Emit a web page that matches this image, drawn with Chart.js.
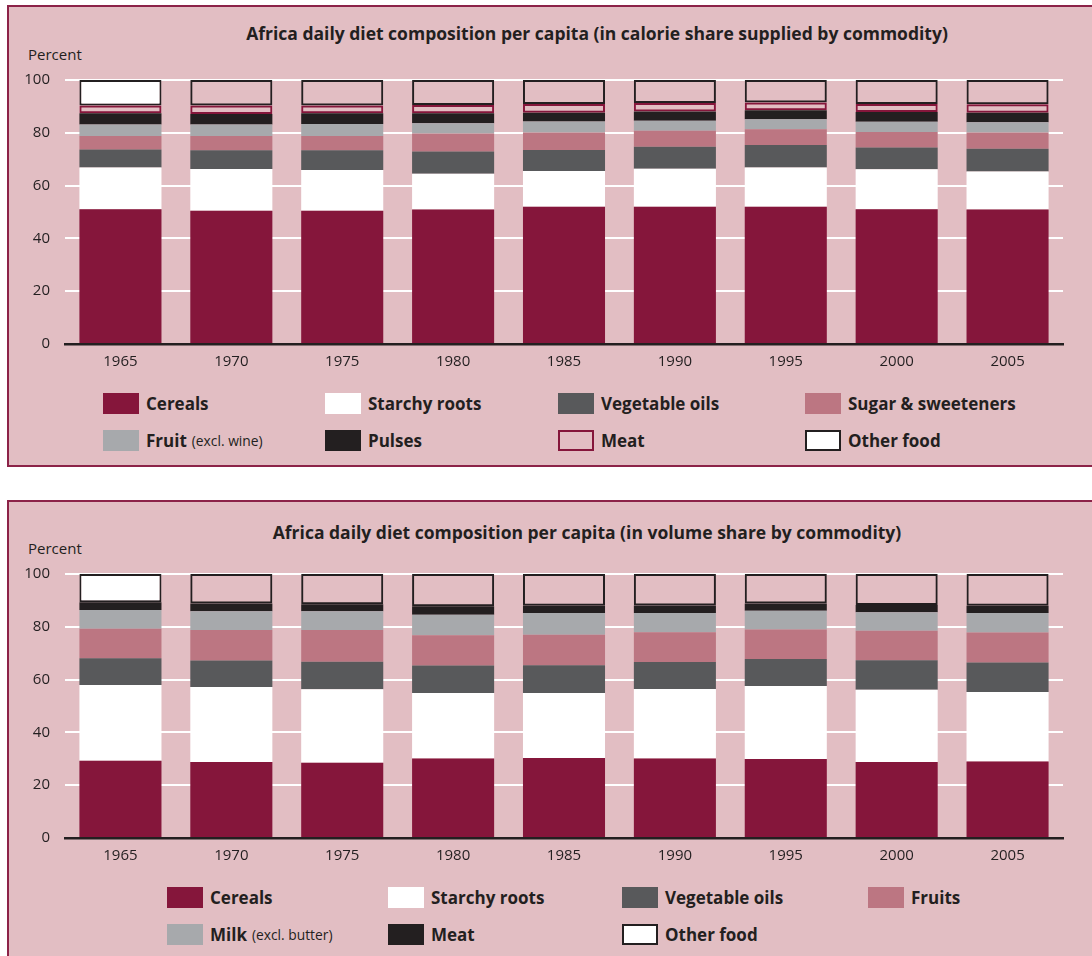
<!DOCTYPE html>
<html>
<head>
<meta charset="utf-8">
<script src="https://cdn.jsdelivr.net/npm/chart.js@4.4.1/dist/chart.umd.min.js"></script>
<style>
  body { margin: 0; width: 1092px; height: 956px; overflow: hidden; position: relative; background: #fff;
         font-family: 'Open Sans', sans-serif; color: #231f20; }
  .panel { position: absolute; left: 7px; width: 1100px; background: #e2bec3; border: 2px solid #8c2348; box-sizing: border-box; }
  .title { position: absolute; font-weight: bold; font-size: 17.5px; white-space: nowrap; transform: translate(-50%, -50%); }
  .unit { position: absolute; font-size: 15px; transform: translateY(-50%); }
  .chart-box { position: absolute; left: 0; width: 1092px; height: 320px; }
  .key { position: absolute; height: 21px; display: flex; align-items: center; white-space: nowrap;
         font-size: 17px; font-weight: bold; }
  .key i { display: inline-block; width: 36px; height: 21px; box-sizing: border-box; margin-right: 7px; flex: none; }
  .key small { font-weight: normal; font-size: 13.8px; margin-left: 5px; }
</style>
</head>
<body>
<div class="panel" style="top:5px;height:462px"></div>
<div class="panel" style="top:500px;height:500px"></div>

<div class="title" style="left:597px;top:33px">Africa daily diet composition per capita (in calorie share supplied by commodity)</div>
<div class="unit" style="left:28px;top:54px">Percent</div>
<div class="chart-box" style="top:60px"><canvas id="calorieChart"></canvas></div>

<div class="title" style="left:587px;top:532px">Africa daily diet composition per capita (in volume share by commodity)</div>
<div class="unit" style="left:28px;top:548px">Percent</div>
<div class="chart-box" style="top:554px"><canvas id="volumeChart"></canvas></div>

<script>
const years = ['1965', '1970', '1975', '1980', '1985', '1990', '1995', '2000', '2005'];
const yTicks = [0, 20, 40, 60, 80, 100];

// calorie share supplied by commodity (%)
const calCereals   = [51.0, 50.5, 50.5, 50.9, 52.0, 52.0, 52.0, 51.0, 50.9];
const calStarchy   = [15.9, 15.8, 15.4, 13.6, 13.5, 14.4, 14.9, 15.2, 14.4];
const calVegOils   = [6.8, 7.1, 7.5, 8.4, 8.0, 8.3, 8.5, 8.2, 8.7];
const calSugar     = [5.1, 5.4, 5.4, 6.8, 6.6, 6.1, 5.9, 5.9, 6.1];
const calFruit     = [4.3, 4.3, 4.5, 3.9, 4.2, 3.8, 3.8, 3.9, 3.9];
const calPulses    = [4.3, 4.0, 4.1, 3.8, 3.3, 3.5, 3.4, 3.7, 3.6];
const calMeat      = [2.9, 3.2, 2.9, 3.1, 3.3, 3.2, 3.0, 3.0, 3.2];
const calOther     = [9.7, 9.7, 9.7, 9.5, 9.1, 8.7, 8.5, 9.1, 9.2];

// volume share by commodity (%)
const volCereals   = [29.3, 28.8, 28.5, 30.1, 30.3, 30.1, 29.9, 28.8, 29.0];
const volStarchy   = [28.7, 28.4, 27.8, 24.8, 24.6, 26.3, 27.7, 27.4, 26.3];
const volVegOils   = [10.1, 10.0, 10.5, 10.4, 10.5, 10.3, 10.2, 11.1, 11.2];
const volFruits    = [11.2, 11.6, 12.0, 11.5, 11.6, 11.2, 11.2, 11.2, 11.3];
const volMilk      = [7.1, 7.1, 7.1, 7.8, 8.2, 7.3, 7.1, 7.0, 7.4];
const volMeat      = [2.9, 2.9, 2.6, 3.2, 2.8, 2.9, 2.7, 2.8, 2.8];
const volOther     = [10.7, 11.2, 11.5, 12.2, 12.0, 11.9, 11.2, 11.7, 12.0];

const calLabels = ['Cereals', 'Starchy roots', 'Vegetable oils', 'Sugar & sweeteners',
                   'Fruit', 'Pulses', 'Meat', 'Other food'];
const calNotes  = ['', '', '', '', '(excl. wine)', '', '', ''];
const volLabels = ['Cereals', 'Starchy roots', 'Vegetable oils', 'Fruits',
                   'Milk', 'Meat', 'Other food'];
const volNotes  = ['', '', '', '', '(excl. butter)', '', ''];

const MAROON = '#85163b';
const INK = '#231f20';
const PANEL = '#e2bec3';
const CLEAR = 'rgba(0,0,0,0)';

const solid = color => ({ backgroundColor: color, swatch: color, borderWidth: 0 });
const outlined = (line, fill) => ({ backgroundColor: fill, swatch: fill[0], borderColor: line,
                                    borderWidth: 2, borderSkipped: false, inflateAmount: 0 });
// only the first bar of "Other food" is filled white, the rest stay open
const otherFill = years.map((_, i) => i === 0 ? '#ffffff' : CLEAR);

const calStyles = [solid(MAROON), solid('#ffffff'), solid('#58595b'), solid('#bc7682'),
                   solid('#a7a9ac'), solid(INK), outlined(MAROON, years.map(() => CLEAR)),
                   outlined(INK, otherFill)];
const volStyles = [solid(MAROON), solid('#ffffff'), solid('#58595b'), solid('#bc7682'),
                   solid('#a7a9ac'), solid(INK), outlined(INK, otherFill)];

function buildDatasets(series, labels, styles) {
    return series.map((data, i) => {
        const { swatch, ...style } = styles[i];
        return { label: labels[i], data, stack: 's', ...style };
    });
}

function renderChart(canvasId, datasets) {
    const ctx = document.getElementById(canvasId).getContext('2d');
    return new Chart(ctx, {
        type: 'bar',
        data: { labels: years, datasets },
        options: {
            responsive: true,
            maintainAspectRatio: false,
            animation: false,
            events: [],
            categoryPercentage: 1,
            barPercentage: 0.74,
            layout: { padding: { top: 20, right: 29, bottom: 0, left: 0 } },
            plugins: { legend: { display: false }, tooltip: { enabled: false } },
            scales: {
                x: {
                    stacked: true,
                    afterFit: scale => { scale.height = 36; },
                    grid: { display: false, drawTicks: false },
                    border: { display: true, color: INK, width: 2.5 },
                    ticks: { color: INK, font: { family: 'Open Sans', size: 15 }, padding: 9 }
                },
                y: {
                    stacked: true,
                    min: 0,
                    max: 100,
                    // fixed axis width, and no extra room reserved for the end labels
                    afterFit: scale => {
                        scale.width = 65;
                        scale.paddingTop = 0;
                        scale.paddingBottom = 0;
                    },
                    afterBuildTicks: scale => { scale.ticks = yTicks.map(v => ({ value: v })); },
                    grid: { color: '#ffffff', lineWidth: 2, drawTicks: false },
                    border: { display: false },
                    ticks: { color: INK, font: { family: 'Open Sans', size: 15 }, padding: 15 }
                }
            }
        }
    });
}

function renderKey(labels, notes, styles, columns, rows) {
    labels.forEach((label, i) => {
        const st = styles[i];
        const el = document.createElement('div');
        el.className = 'key';
        el.style.left = columns[i % 4] + 'px';
        el.style.top = rows[Math.floor(i / 4)] + 'px';
        const sw = document.createElement('i');
        sw.style.background = st.swatch === CLEAR ? PANEL : st.swatch;
        if (st.borderWidth) sw.style.border = '2px solid ' + st.borderColor;
        el.appendChild(sw);
        el.appendChild(document.createTextNode(label));
        if (notes[i]) {
            const note = document.createElement('small');
            note.textContent = notes[i];
            el.appendChild(note);
        }
        document.body.appendChild(el);
    });
}

renderChart('calorieChart', buildDatasets(
    [calCereals, calStarchy, calVegOils, calSugar, calFruit, calPulses, calMeat, calOther],
    calLabels, calStyles));
renderChart('volumeChart', buildDatasets(
    [volCereals, volStarchy, volVegOils, volFruits, volMilk, volMeat, volOther],
    volLabels, volStyles));

renderKey(calLabels, calNotes, calStyles, [103, 325, 558, 805], [393, 430]);
renderKey(volLabels, volNotes, volStyles, [167, 388, 622, 868], [887, 924]);
</script>
</body>
</html>
